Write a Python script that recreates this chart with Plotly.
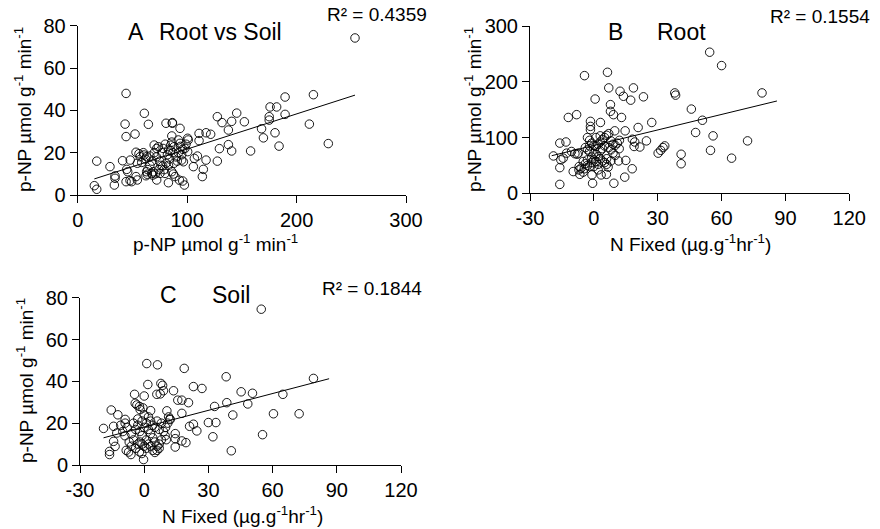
import numpy as np
import plotly.graph_objects as go

# ---------------- data ----------------
# Panel A: root p-NP (x) vs soil p-NP (y)
a_root = [253.4, 215.4, 189.5, 229, 211.7, 189.5, 175.8, 181.8, 175, 175, 168, 169.7, 180.3, 184, 158,
          152.3, 145.3, 140.7, 137.7, 137.7, 140.7, 127.6, 131.9, 129.5, 127.6, 121.5, 117.3, 110.9, 110.9,
          117.3, 114.8, 113.9, 105.7, 109.4, 106.6, 100.5, 101, 100.5, 97.5, 96, 93, 93.5, 86.5, 80.7, 86,
          88, 82.9, 96, 96.6, 95, 92, 93.5, 80.7, 77.7, 82.9, 75.2, 79.8, 86, 87.4, 88.9, 72.2, 67.6, 68.5,
          62.4, 63.6, 69.9, 72.2, 73.7, 60.9, 64.6, 44.2, 43.3, 44.2, 52.4, 53.3, 41, 29.5, 17.4, 15.2, 17.4,
          34.1, 34.1, 33.5, 44.8, 45.7, 44.2, 47.8, 49.3, 53.3, 54.5, 57, 60.6, 63, 66, 54.5, 58.5, 63, 69,
          70, 72, 75, 78, 80, 82, 84, 85, 86, 88, 90, 92, 94, 76, 74, 68, 66, 62, 60, 64, 71, 79, 83, 87, 91,
          95, 98, 77, 86.5, 85, 48, 56, 99]
a_soil = [74.2, 47.4, 46.3, 24.3, 33.5, 38.1, 41.6, 41.6, 37, 35.4, 31.3, 27, 29.4, 23.1, 20.8,
          34.6, 38.7, 34.8, 30.7, 23.8, 20.8, 37, 34.2, 21.9, 16, 28.7, 29.4, 29.1, 25.7,
          16.5, 12.1, 8.7, 13.4, 18.4, 17.3, 26.8, 26, 20.5, 4.7, 6.6, 7, 31.5, 33.9, 33.9, 27.9,
          22.8, 21.3, 21.6, 15.7, 16.5, 26, 24.4, 15, 13.7, 5.8, 10.2, 10.2, 11, 9.9, 8.7, 7.1, 10.2, 9.4,
          9.1, 9.8, 23.6, 22, 22.8, 38.6, 33.4, 48, 33.5, 27.6, 28.8, 20.2, 16.2, 13.4, 16, 4.4, 2.7,
          9, 7.9, 4.7, 12.1, 11, 6.3, 6.8, 6.3, 8.7, 7.1, 18.1, 18.9, 18.1, 18.4, 15, 15.4, 11, 11,
          20, 18, 16, 22, 24, 19, 17, 21, 25, 15, 18, 20, 23, 14, 12, 16, 14, 17, 20, 12, 10, 12, 14, 20, 16,
          19, 22, 20, 34.2, 23.5, 16.5, 19.5, 24]

# Panel B: N fixed (x) vs root p-NP (y)
b_nfix = [54.4, 60, 79, 38, 38.4, 45.8, 51, 47.8, 56, 72.2, 54.8, 64.7, 41, 41, 32.5, 33.3, 31.4, 30.2,
          27.2, 23.3, 20.8, 21.6, 19.2, 24.7, 18.9, 18.6, 17.3, 18.1, 18, 15, 14.5, 13.9, 12.3, 13, 14.7,
          11.6, 11.9, 9.4, 6.4, 7, 7.8, 7.8, 9.2, 0.6, -4.4, -8.1, -12, -1.6, -1.6, -1.6, 3.1, 9.8, -16,
          -13.1, -19, -12.8, -14.4, -8.9, -7.8, -7.3, -9.7, -16, -16, -6.6, -6.9, -4.5, -0.6, -0.9, 3.4,
          5.9, 6.7, -15.5, -10.5,
          -3, -2, -1, 0, 1, 2, 3, 4, 5, 6, 7, 8, 9, 10, 11, 12, -4, -3, -2, 0, 1, 2, 3, 4, 5, 6, -5, -4,
          -3, -2, -1, 0, 1, 2, -6, -7, -5, -3, 7, 8, 9, 10, 5, 4, 3, -1, 0, 2, 6, 8, -2, 1, 3]
b_root = [253, 229, 180, 180, 176, 151, 131, 109, 103, 94, 77, 63, 70, 53, 82, 85, 77, 72,
          127, 173, 118, 83, 92, 94, 84, 189, 167, 97, 44, 59, 29, 174, 183, 136, 112,
          58, 80, 18, 217, 189, 159, 147, 141, 169, 211, 141, 136, 129, 120, 114, 127, 112, 90,
          92, 67, 72, 63, 71, 70, 72, 39, 46, 16, 34, 48, 44, 18, 33, 33,
          34, 47, 60, 75,
          100, 95, 90, 86, 84, 88, 92, 96, 100, 104, 107, 94, 88, 86, 90, 95, 82, 78, 75, 72, 70, 66,
          62, 58, 55, 52, 57, 53, 50, 48, 55, 60, 57, 52, 45, 42, 38, 60, 82, 78, 72, 68, 85, 80, 76,
          65, 48, 42, 62, 58, 85, 100, 103]

# Panel C: N fixed (x) vs soil p-NP (y)
c_nfix = [54.7, 79.1, 38.3, 45.3, 50.6, 64.8, 48.4, 38.6, 32.9, 60.4, 72.4, 41.4, 55.3, 40.7, 30, 33.5,
          32.1, 24.6, 21.2, 23, 23, 27, 20.7, 18.7, 17.6, 15.7, 13.7, 17.6, 19.5, 17.6, 14.5, 14.5, 14.5,
          12.1, 11.4, 10.6, 10.3, 9.8, 1.2, 6.2, 1.7, 7.8, 8.6, 7.5, 9, 5.9, 0, -4.5, -15.4, -12.3, -19,
          -14.3, -12.8, -8.9, -8.9, -14.3, -13.6, -16.2, -16.2, -8.4, -7.3, -6.2, -4.2, -3.4, -2.2, -1.9,
          -0.6, -0.3, -1.1, -2.2,
          -10, -8, -6, -5, -4, -3, -2, -1, 0, 1, 2, 3, 4, 5, 6, 7, 8, 9, 10, 11, 12, -7, -6, -4, -3, -2,
          0, 1, 2, 3, 4, 5, 6, 7, -5, -3, -1, 0, 2, 3, 4, 5, 6, 7, 8, -9, -11, 1, 3, -1]
c_soil = [74.5, 41.4, 42.2, 35, 34.3, 33.8, 29.2, 29.8, 28, 24.5, 24.5, 23.9, 14.5, 6.8, 20.3, 20.3,
          13.5, 16.3, 18.5, 19.5, 37.5, 36.6, 29.8, 46.2, 31, 31, 35.5, 24.7, 10.7, 11.5, 15, 12.6, 8.6,
          21.7, 23, 25.9, 12.1, 14, 48.5, 47.9, 38.5, 39, 38.1, 34, 35.5, 33.8, 33, 33.8, 26.3, 24, 17.5,
          18.5, 15.3, 21.8, 20, 11.3, 8.9, 6.5, 5, 7, 6.2, 5, 29.5, 28.7, 28, 26.5,
          27.3, 2.6, 5.5, 6.3,
          16, 18, 15, 12, 17, 19, 16, 14, 18, 20, 17, 15, 13, 11, 9, 8, 12, 16, 18, 20, 22, 11, 9, 8, 10, 11,
          9, 8, 10, 9, 7, 6, 7, 10, 20, 22, 21, 24, 23, 21, 19, 18, 21, 17, 20, 14, 19, 12, 26, 10]

# Linear trend lines: slope, intercept, x start, x end
a_fit = [0.1662, 5.07, 15.2, 253.4]
b_fit = [0.927, 85.8, -19.8, 86.0]
c_fit = [0.268, 18.1, -19.0, 86.4]

a_r2 = "R² = 0.4359"
b_r2 = "R² = 0.1554"
c_r2 = "R² = 0.1844"

# N-fixed axis ticks (plain hyphen minus, as in the original)
nfix_tickvals = [-30, 0, 30, 60, 90, 120]
nfix_ticktext = ["-30", "0", "30", "60", "90", "120"]

# ---------------- figure ----------------
W, H = 880, 529
FONT = "Liberation Sans, Arial, sans-serif"


def px_x(p):
    return p / W


def px_y(p):
    return 1 - p / H


fig = go.Figure()

marker = dict(symbol="circle-open", size=8.5, color="black", line=dict(width=0.9))

panels = [
    ("x", "y", a_root, a_soil, a_fit),
    ("x2", "y2", b_nfix, b_root, b_fit),
    ("x3", "y3", c_nfix, c_soil, c_fit),
]
for xa, ya, xs, ys, fit in panels:
    fig.add_trace(go.Scatter(x=xs, y=ys, mode="markers", marker=marker,
                             xaxis=xa, yaxis=ya, showlegend=False))
    lx = np.array([fit[2], fit[3]])
    ly = fit[0] * lx + fit[1]
    fig.add_trace(go.Scatter(x=lx, y=ly, mode="lines", line=dict(color="black", width=1),
                             xaxis=xa, yaxis=ya, showlegend=False))

axis_common = dict(showline=True, linecolor="black", linewidth=1, ticks="outside", ticklen=7,
                   tickcolor="black", tickwidth=1, showgrid=False, zeroline=False,
                   automargin=False,
                   tickfont=dict(family=FONT, size=20, color="black"))

fig.update_layout(
    template="none",
    width=W, height=H, margin=dict(l=0, r=0, t=0, b=0, pad=0, autoexpand=False),
    paper_bgcolor="white", plot_bgcolor="white",
    font=dict(family=FONT, color="black"),
    xaxis=dict(domain=[px_x(77.7), px_x(406)], range=[0, 300], dtick=100, anchor="y", **axis_common),
    yaxis=dict(domain=[px_y(195), px_y(25.7)], range=[0, 80], dtick=20, anchor="x", **axis_common),
    xaxis2=dict(domain=[px_x(530), px_x(849.3)], range=[-30, 120], tickmode="array",
                tickvals=nfix_tickvals, ticktext=nfix_ticktext, anchor="y2", **axis_common),
    yaxis2=dict(domain=[px_y(193.3), px_y(26)], range=[0, 300], dtick=100, anchor="x2", **axis_common),
    xaxis3=dict(domain=[px_x(80), px_x(401)], range=[-30, 120], tickmode="array",
                tickvals=nfix_tickvals, ticktext=nfix_ticktext, anchor="y3", **axis_common),
    yaxis3=dict(domain=[px_y(465), px_y(297.7)], range=[0, 80], dtick=20, anchor="x3", **axis_common),
)

ytitle = "p-NP µmol g<sup>-1</sup> min<sup>-1</sup>"
nfix_title = "N Fixed (µg.g<sup>-1</sup>hr<sup>-1</sup>)"

annots = [
    # axis titles
    (23, 110, ytitle, 19, -90, "center"),
    (215, 243, ytitle, 19, 0, "center"),
    (473, 110, ytitle, 19, -90, "center"),
    (690, 243, nfix_title, 19, 0, "center"),
    (25, 381, ytitle, 19, -90, "center"),
    (242, 515, nfix_title, 19, 0, "center"),
    # panel labels
    (126, 32, "A", 23, 0, "left"),
    (157, 32, "Root vs Soil", 23, 0, "left"),
    (606, 32, "B", 23, 0, "left"),
    (655, 32, "Root", 23, 0, "left"),
    (158, 295, "C", 23, 0, "left"),
    (210, 295, "Soil", 23, 0, "left"),
    # R squared
    (325, 14, a_r2, 19, 0, "left"),
    (768, 17, b_r2, 19, 0, "left"),
    (320, 288, c_r2, 19, 0, "left"),
]
for x, y, text, size, ang, anchor in annots:
    fig.add_annotation(x=px_x(x), y=px_y(y), xref="paper", yref="paper", text=text,
                       showarrow=False, textangle=ang, xanchor=anchor, yanchor="middle",
                       font=dict(family=FONT, size=size, color="black"))

fig.write_html("out.html", config={"displayModeBar": False},
               post_script="document.body.style.margin='0px';document.body.style.overflow='hidden';")
